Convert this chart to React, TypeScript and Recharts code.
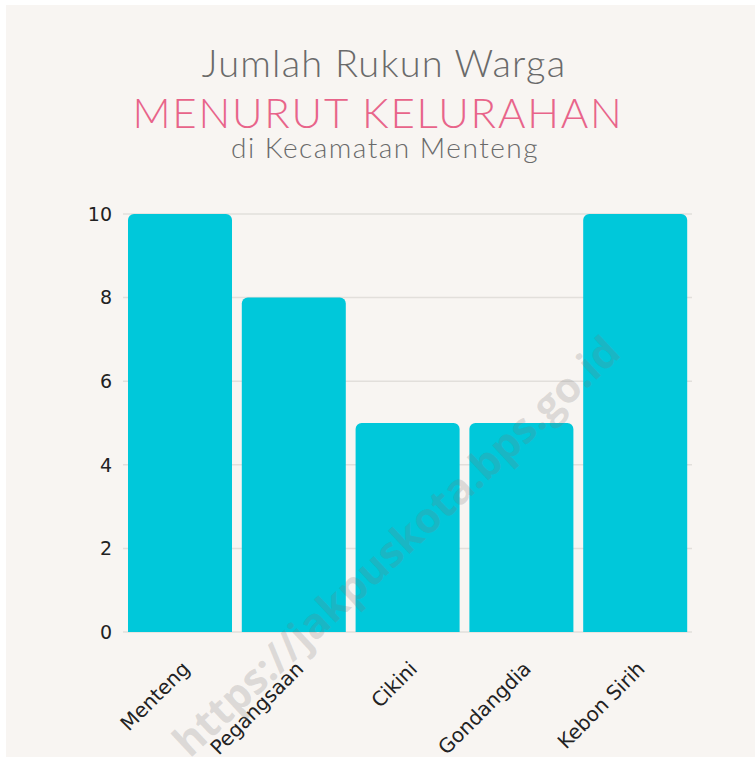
import React from "react";
import { BarChart, Bar, XAxis, YAxis, CartesianGrid } from "recharts";

const kelurahan = ["Menteng", "Pegangsaan", "Cikini", "Gondangdia", "Kebon Sirih"];
const jumlahRW = [10, 8, 5, 5, 10];
const yTicks = [0, 2, 4, 6, 8, 10];

const data = kelurahan.map((name, i) => ({ name, rw: jumlahRW[i] }));

const BG = "#f8f5f2";
const BAR = "#00c8da";
const LABEL_FONT = "'DejaVu Sans', sans-serif";

function XTick(props: any) {
  const { x, y, payload } = props;
  const ax = x + 11;
  const ay = y + 30;
  return (
    <text
      x={ax}
      y={ay}
      transform={`rotate(-45, ${ax}, ${ay})`}
      textAnchor="end"
      fontSize={20}
      fontFamily={LABEL_FONT}
      fill="#222"
    >
      {payload.value}
    </text>
  );
}

export default function App() {
  return (
    <div
      style={{
        position: "fixed",
        top: 0,
        left: 0,
        width: 755,
        height: 758,
        background: "#fff",
        overflow: "hidden",
      }}
    >
      <div style={{ position: "absolute", left: 6, top: 5, right: 0, bottom: 1, background: BG }} />
      <svg width={755} height={180} style={{ position: "absolute", top: 0, left: 0 }}>
        <g fontFamily="Lato, sans-serif" fontWeight={300} textAnchor="middle">
          <text x={384} y={77} fontSize={38} fill="#6a6a6a" letterSpacing={1.2}>
            Jumlah Rukun Warga
          </text>
          <text x={378} y={128} fontSize={42} fill="#e8648a" letterSpacing={1.8}>
            MENURUT KELURAHAN
          </text>
          <text x={385} y={158} fontSize={28} fill="#6a6a6a" letterSpacing={1.5}>
            di Kecamatan Menteng
          </text>
        </g>
      </svg>
      <div style={{ position: "absolute", top: 0, left: 0 }}>
        <BarChart
          width={755}
          height={758}
          data={data}
          margin={{ top: 214, right: 63, left: 0, bottom: 16 }}
          barCategoryGap={5}
        >
          <CartesianGrid vertical={false} stroke="#e2dfdb" strokeWidth={1.5} />
          <YAxis
            width={123}
            domain={[0, 10]}
            ticks={yTicks}
            axisLine={false}
            tickLine={false}
            tickMargin={5}
            tick={{ fontSize: 19, fill: "#222", fontFamily: LABEL_FONT }}
          />
          <XAxis
            dataKey="name"
            height={110}
            axisLine={false}
            tickLine={false}
            interval={0}
            tick={<XTick />}
          />
          <Bar dataKey="rw" fill={BAR} radius={[6, 6, 0, 0]} isAnimationActive={false} />
        </BarChart>
      </div>
      <div
        style={{
          position: "absolute",
          left: 395,
          top: 545,
          transform: "translate(-50%, -50%) rotate(-43deg)",
          whiteSpace: "nowrap",
          fontFamily: "'Open Sans', sans-serif",
          fontWeight: 700,
          fontSize: 42,
          color: "rgba(120,120,120,0.22)",
          pointerEvents: "none",
        }}
      >
        https://jakpuskota.bps.go.id
      </div>
    </div>
  );
}
